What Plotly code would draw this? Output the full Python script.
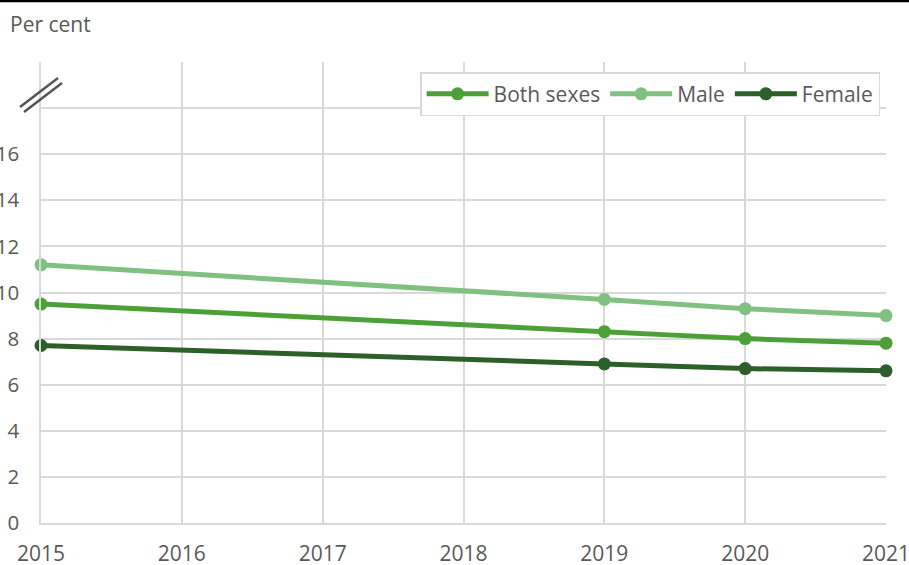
import plotly.graph_objects as go

years = [2015, 2019, 2020, 2021]
both_sexes = [9.5, 8.3, 8.0, 7.8]
male = [11.2, 9.7, 9.3, 9.0]
female = [7.7, 6.9, 6.7, 6.6]

x_ticks = [2015, 2016, 2017, 2018, 2019, 2020, 2021]
y_ticks = [0, 2, 4, 6, 8, 10, 12, 14, 16, 18, 20]
y_ticktext = ["0", "2", "4", "6", "8", "10", "12", "14", "16", "", ""]

series = [
    ("Both sexes", both_sexes, "#4ca038"),
    ("Male", male, "#80c080"),
    ("Female", female, "#2d5f2a"),
]

fig = go.Figure()
for name, vals, col in series:
    fig.add_trace(go.Scatter(
        x=years, y=vals, name=name, mode="lines+markers",
        line=dict(color=col, width=5, shape="spline", smoothing=0.4),
        marker=dict(color=col, size=13),
        cliponaxis=False,
    ))

font_col = "#595959"
fig.update_layout(
    width=909, height=565,
    margin=dict(l=41, r=23, t=62, b=42),
    paper_bgcolor="white", plot_bgcolor="white",
    font=dict(family="Open Sans", size=21, color=font_col),
    showlegend=True,
    legend=dict(
        orientation="h", x=0.993, xanchor="right", y=0.978, yanchor="top",
        bordercolor="#d9d9d9", borderwidth=1.5, bgcolor="white",
        font=dict(size=21, color=font_col), itemwidth=62,
    ),
    xaxis=dict(
        range=[2015, 2021], tickvals=x_ticks, ticktext=[str(v) for v in x_ticks],
        showgrid=True, gridcolor="#d9d9d9", gridwidth=1.5,
        showline=True, linecolor="#d9d9d9", linewidth=1.5,
        ticks="outside", ticklen=11, tickcolor="rgba(0,0,0,0)",
        zeroline=False, tickfont=dict(size=21, color=font_col),
        automargin=False, ticklabeloverflow="allow",
    ),
    yaxis=dict(
        range=[0, 20], tickvals=y_ticks, ticktext=y_ticktext,
        showgrid=True, gridcolor="#d9d9d9", gridwidth=1.5,
        showline=True, linecolor="#d9d9d9", linewidth=1.5,
        ticks="outside", ticklen=16, tickcolor="rgba(0,0,0,0)",
        zeroline=False, tickfont=dict(size=20.5, color=font_col),
        automargin=False, ticklabeloverflow="allow",
    ),
)

# "Per cent" label
fig.add_annotation(
    text="Per cent", xref="paper", yref="paper",
    x=-0.039, y=1.0824, xanchor="left", yanchor="middle",
    showarrow=False, font=dict(size=21, color=font_col),
)

# top black rule
fig.add_shape(type="line", xref="paper", yref="paper",
              x0=-0.05, x1=1.03, y0=1.1325, y1=1.1325,
              line=dict(color="black", width=2.5))

# axis break symbol
def px2paper(px, py):
    return (px - 41) / 845, (523 - py) / 461

for (a, b) in [((20, 107), (58, 78)), ((24, 112), (62, 83))]:
    x0, y0 = px2paper(*a)
    x1, y1 = px2paper(*b)
    fig.add_shape(type="line", xref="paper", yref="paper",
                  x0=x0, y0=y0, x1=x1, y1=y1,
                  line=dict(color="#555555", width=2.5))

fig.write_html(
    "out.html",
    config={"displayModeBar": False},
    post_script="document.body.style.margin='0';document.body.style.overflow='hidden';",
)
